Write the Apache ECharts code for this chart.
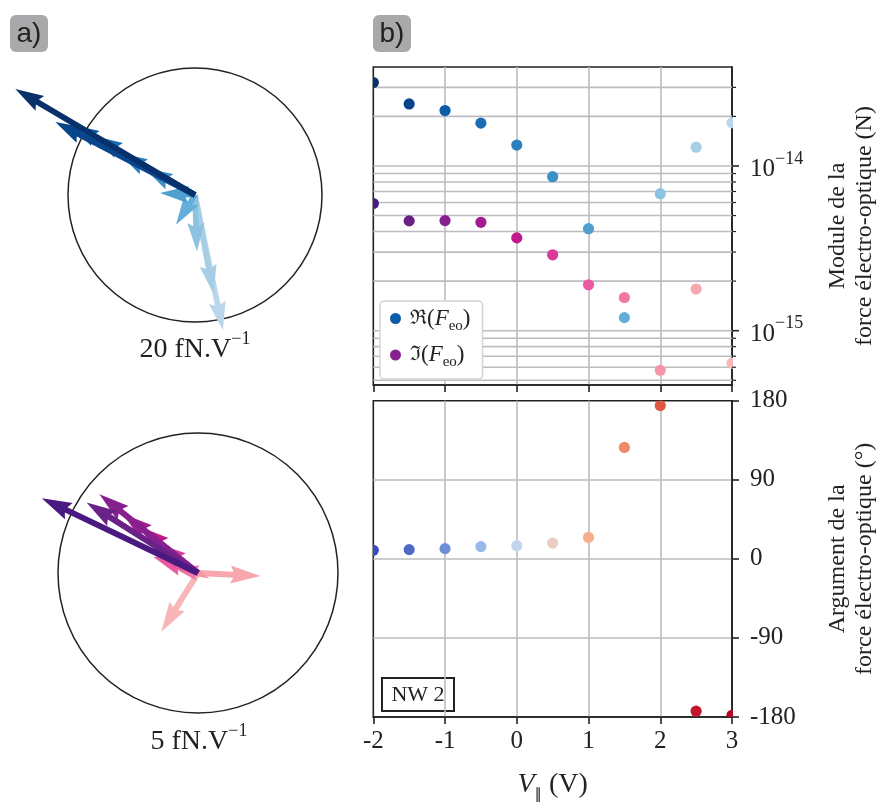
<!DOCTYPE html>
<html><head><meta charset="utf-8">
<script src="https://cdn.jsdelivr.net/npm/echarts@6/dist/echarts.min.js"></script>
<style>html,body{margin:0;padding:0;background:#fff}#c{width:879px;height:804px}</style>
</head><body><div id="c"></div>
<script>
// ---------- data ----------
const voltages = [-2, -1.5, -1, -0.5, 0, 0.5, 1, 1.5, 2, 2.5, 3];
const reForce  = [3.21e-14, 2.38e-14, 2.17e-14, 1.82e-14, 1.34e-14, 8.61e-15, 4.16e-15, 1.20e-15, 6.79e-15, 1.30e-14, 1.83e-14];
const imForce  = [5.92e-15, 4.64e-15, 4.66e-15, 4.55e-15, 3.66e-15, 2.89e-15, 1.90e-15, 1.59e-15, 5.75e-16, 1.79e-15, 6.35e-16];
const argForce = [9.7, 10.5, 11.6, 13.9, 15.0, 18.0, 24.4, 126.8, 174.5, -173.4, -178.0];
// quiver vectors (fN/V)
const reArrowU = [-28.3, -22.0, -19.6, -15.9, -12.0, -8.0, -5.5, -3.0, 0.3, 2.9, 4.4];
const reArrowV = [16.7, 11.5, 11.1, 9.3, 6.6, 4.2, 0.3, -4.7, -8.9, -15.5, -21.3];
const imArrowU = [-5.58, -3.98, -3.52, -2.69, -2.10, -1.50, -1.60, -0.90, 0.40, 2.23, -1.31];
const imArrowV = [2.67, 2.52, 2.81, 2.12, 1.66, 1.06, 0.58, 0.20, -0.20, -0.11, -2.10];
const reScale = 20;   // fN.V^-1 circle
const imScale = 5;
const xTicks = [-2, -1, 0, 1, 2, 3];
const logMajor = [1e-15, 1e-14];
const logMinor = [5e-16, 6e-16, 7e-16, 8e-16, 9e-16, 2e-15, 3e-15, 4e-15, 5e-15, 6e-15, 7e-15, 8e-15, 9e-15, 2e-14, 3e-14];
const argTicks = [-180, -90, 0, 90, 180];

// ---------- styles ----------
const reColors = ['#08306b','#08468c','#0b5ca8','#1a6db3','#2d7fbe','#3d8fc6','#4fa0d0','#64afd9','#8cc3e1','#a6cfe6','#b9d7eb'];
const imColors = ['#4a1a80','#6a2289','#86208f','#a11c91','#c0198a','#d83a98','#eb5a9f','#f178a6','#f596aa','#f7a7ad','#f8b7b6'];
const argColors = ['#3b4cc0','#4f69c6','#6d8fd5','#97b9e8','#c2d5ee','#e8cdc0','#f6ad8b','#f08a6a','#de5843','#c0172e','#b40426'];
const gridGray = '#bdbdc1';
const serif = 'Liberation Serif';

const chart = echarts.init(document.getElementById('c'), null, {renderer: 'canvas'});

function arrowPts(p0, p1, w) {
  const dx = p1[0] - p0[0], dy = p1[1] - p0[1];
  const L = Math.hypot(dx, dy);
  const hl = 5 * w, hal = 4.5 * w, hw = 1.5 * w;
  const s = L < hl ? L / hl : 1;
  const Ls = L / s;
  const ux = dx / L, uy = dy / L;
  const loc = [[0, -w/2], [Ls - hal, -w/2], [Ls - hl, -hw], [Ls, 0], [Ls - hl, hw], [Ls - hal, w/2], [0, w/2]];
  return loc.map(([a, b]) => [p0[0] + s * (a * ux - b * uy), p0[1] + s * (a * uy + b * ux)]);
}

function quiverSeries(gi, U, V, colors, w) {
  const order = U.map((_, i) => i).reverse();
  return {
    type: 'custom', xAxisIndex: gi, yAxisIndex: gi, z: 3, silent: true,
    data: order.map(i => [U[i], V[i], i]),
    renderItem: (params, api) => {
      const p0 = api.coord([0, 0]);
      const p1 = api.coord([api.value(0), api.value(1)]);
      return {type: 'polygon', shape: {points: arrowPts(p0, p1, w)}, style: {fill: colors[api.value(2)]}};
    }
  };
}

function circleSeries(gi, r) {
  return {
    type: 'custom', xAxisIndex: gi, yAxisIndex: gi, z: 2, silent: true,
    data: [[0, 0, r]],
    renderItem: (params, api) => {
      const c = api.coord([0, 0]);
      const rr = api.size([api.value(2), 0])[0];
      return {type: 'circle', shape: {cx: c[0], cy: c[1], r: rr}, style: {fill: 'none', stroke: '#222', lineWidth: 1.5}};
    }
  };
}

function dotSeries(name, gi, ys, colors, legendColor) {
  return {
    name: name, type: 'custom', xAxisIndex: gi, yAxisIndex: gi, z: 5, clip: true,
    itemStyle: {color: legendColor},
    data: voltages.map((x, i) => [x, ys[i], i]),
    renderItem: (params, api) => {
      const c = api.coord([api.value(0), api.value(1)]);
      return {type: 'circle', shape: {cx: c[0], cy: c[1], r: 5.6}, style: {fill: colors[api.value(2)]}};
    }
  };
}

const hiddenAxis = (gi, min, max) => ({type: 'value', gridIndex: gi, min: min, max: max, show: false});

const xPanel = (gi, labels) => ({
  type: 'value', gridIndex: gi, min: -2, max: 3, interval: 1, position: 'bottom',
  axisLine: {show: true, onZero: false, lineStyle: {color: '#222', width: 1.6}},
  axisTick: {show: true, length: 7, lineStyle: {color: '#222', width: 1.6}},
  splitLine: {show: true, showMinLine: false, showMaxLine: false, lineStyle: {color: gridGray, width: 1.6}},
  axisLabel: {show: labels, margin: 12, color: '#222', fontFamily: serif, fontSize: 25,
    formatter: v => (v < 0 ? '-' + Math.abs(v) : String(v))},
  name: labels ? '{i|V}{s|∥}{r| (V)}' : '', nameLocation: 'middle', nameGap: 50,
  nameTextStyle: {rich: {
    i: {fontFamily: serif, fontStyle: 'italic', fontSize: 28, lineHeight: 34, verticalAlign: 'middle'},
    s: {fontFamily: 'DejaVu Sans', fontSize: 15, lineHeight: 36, verticalAlign: 'bottom'},
    r: {fontFamily: serif, fontSize: 28, lineHeight: 34, verticalAlign: 'middle'}
  }}
});

const isPow10 = v => Math.abs(Math.log10(v) - Math.round(Math.log10(v))) < 1e-6;

const option = {
  animation: false,
  textStyle: {fontFamily: serif},
  grid: [
    {left: 4.5, top: 4.5, width: 381, height: 381, show: false},
    {left: 2, top: 377, width: 392, height: 392, show: false},
    {left: 373.3, top: 67, width: 362.4, height: 318, show: true, borderColor: '#222', borderWidth: 1.6, backgroundColor: 'transparent'},
    {left: 373.3, top: 400.7, width: 362.4, height: 316.6, show: true, borderColor: '#222', borderWidth: 1.6, backgroundColor: 'transparent'}
  ],
  xAxis: [hiddenAxis(0, -30, 30), hiddenAxis(1, -7, 7), xPanel(2, false), xPanel(3, true)],
  yAxis: [
    hiddenAxis(0, -30, 30), hiddenAxis(1, -7, 7),
    {type: 'log', logBase: 10, gridIndex: 2, min: 4.68e-16, max: 3.99e-14, position: 'right',
     axisLine: {show: true, onZero: false, lineStyle: {color: '#222', width: 1.6}},
     axisTick: {show: false}, splitLine: {show: false}, minorTick: {show: false},
     axisLabel: {margin: 18, color: '#222', showMinLabel: false, showMaxLabel: false,
       formatter: v => isPow10(v) ? '{b|10}{s|−' + Math.abs(Math.round(Math.log10(v))) + '}' : '',
       rich: {b: {fontFamily: serif, fontSize: 25, lineHeight: 32, verticalAlign: 'bottom'},
              s: {fontFamily: serif, fontSize: 18, lineHeight: 32, verticalAlign: 'top'}}},
     name: 'Module de la\nforce électro-optique (N)', nameLocation: 'middle', nameGap: 92,
     nameTextStyle: {fontFamily: serif, fontSize: 24, lineHeight: 27, color: '#222'}},
    {type: 'value', gridIndex: 3, min: -180, max: 180, interval: 90, position: 'right',
     axisLine: {show: true, onZero: false, lineStyle: {color: '#222', width: 1.6}},
     axisTick: {show: true, length: 7, lineStyle: {color: '#222', width: 1.6}},
     splitLine: {show: true, showMinLine: false, showMaxLine: false, lineStyle: {color: gridGray, width: 1.6}},
     axisLabel: {margin: 18, color: '#222', fontFamily: serif, fontSize: 25,
       formatter: v => (v < 0 ? '-' + Math.abs(v) : String(v))},
     name: 'Argument de la\nforce électro-optique (°)', nameLocation: 'middle', nameGap: 92,
     nameTextStyle: {fontFamily: serif, fontSize: 24, lineHeight: 27, color: '#222'}}
  ],
  legend: {
    left: 380, top: 301, orient: 'vertical', icon: 'circle', itemWidth: 11, itemHeight: 11, itemGap: 10,
    padding: [6, 12, 9, 10], backgroundColor: '#fff', borderColor: '#d4d4d4', borderWidth: 1.5, borderRadius: 4,
    data: ['Re', 'Im'],
    formatter: n => (n === 'Re' ? '{f|ℜ}' : '{f|ℑ}') + '{p|(}{i|F}{s|eo}{p|)}',
    textStyle: {color: '#222', padding: [0, 0, 0, 4], rich: {
      f: {fontFamily: 'DejaVu Serif', fontSize: 20, lineHeight: 26, verticalAlign: 'middle'},
      p: {fontFamily: serif, fontSize: 23, lineHeight: 26, verticalAlign: 'middle'},
      i: {fontFamily: serif, fontStyle: 'italic', fontSize: 23, lineHeight: 26, verticalAlign: 'middle'},
      s: {fontFamily: serif, fontSize: 15, lineHeight: 30, verticalAlign: 'bottom'}
    }}
  },
  series: [
    circleSeries(0, reScale),
    quiverSeries(0, reArrowU, reArrowV, reColors, 5.7),
    circleSeries(1, imScale),
    quiverSeries(1, imArrowU, imArrowV, imColors, 6),
    // log grid lines
    {type: 'custom', xAxisIndex: 2, yAxisIndex: 2, z: 1, silent: true,
     data: logMajor.concat(logMinor).map(v => [v]),
     renderItem: (params, api) => {
       const a = api.coord([-2, api.value(0)]), b = api.coord([3, api.value(0)]);
       return {type: 'line', shape: {x1: a[0], y1: a[1], x2: b[0], y2: b[1]}, style: {stroke: gridGray, lineWidth: 1.6}};
     }},
    // log ticks on right
    {type: 'custom', xAxisIndex: 2, yAxisIndex: 2, z: 6, silent: true,
     data: logMajor.map(v => [v, 1]).concat(logMinor.map(v => [v, 0])),
     renderItem: (params, api) => {
       const b = api.coord([3, api.value(0)]);
       const len = api.value(1) ? 7 : 4;
       return {type: 'line', shape: {x1: b[0], y1: b[1], x2: b[0] + len, y2: b[1]}, style: {stroke: '#222', lineWidth: api.value(1) ? 1.6 : 1.2}};
     }},
    dotSeries('Re', 2, reForce, reColors, '#0b5ca8'),
    dotSeries('Im', 2, imForce, imColors, '#86208f'),
    dotSeries('Arg', 3, argForce, argColors, '#3b4cc0')
  ],
  graphic: [
    {type: 'group', left: 10, top: 15, children: [
      {type: 'rect', shape: {x: 0, y: 0, width: 38, height: 37, r: 6}, style: {fill: '#a9a9ab'}},
      {type: 'text', x: 19, y: 19, style: {text: 'a)', fontFamily: 'Liberation Sans', fontSize: 28, fill: '#222', align: 'center', verticalAlign: 'middle'}}
    ]},
    {type: 'group', left: 373, top: 15, children: [
      {type: 'rect', shape: {x: 0, y: 0, width: 38, height: 37, r: 6}, style: {fill: '#a9a9ab'}},
      {type: 'text', x: 19, y: 19, style: {text: 'b)', fontFamily: 'Liberation Sans', fontSize: 28, fill: '#222', align: 'center', verticalAlign: 'middle'}}
    ]},
    {type: 'text', x: 195, y: 347, z: 10, style: {text: '{a|20 fN.V}{s|−1}', align: 'center', verticalAlign: 'middle',
      rich: {a: {fontFamily: serif, fontSize: 28, lineHeight: 34, verticalAlign: 'bottom', fill: '#222'},
             s: {fontFamily: serif, fontSize: 18, lineHeight: 34, verticalAlign: 'top', fill: '#222'}}}},
    {type: 'text', x: 199, y: 739, z: 10, style: {text: '{a|5 fN.V}{s|−1}', align: 'center', verticalAlign: 'middle',
      rich: {a: {fontFamily: serif, fontSize: 28, lineHeight: 34, verticalAlign: 'bottom', fill: '#222'},
             s: {fontFamily: serif, fontSize: 18, lineHeight: 34, verticalAlign: 'top', fill: '#222'}}}},
    {type: 'group', left: 381, top: 677, z: 10, children: [
      {type: 'rect', shape: {x: 0, y: 0, width: 72, height: 33}, style: {fill: '#fff', stroke: '#222', lineWidth: 2}},
      {type: 'text', x: 36, y: 17, style: {text: 'NW 2', fontFamily: serif, fontSize: 22, fill: '#222', align: 'center', verticalAlign: 'middle'}}
    ]}
  ]
};
chart.setOption(option);
</script></body></html>
